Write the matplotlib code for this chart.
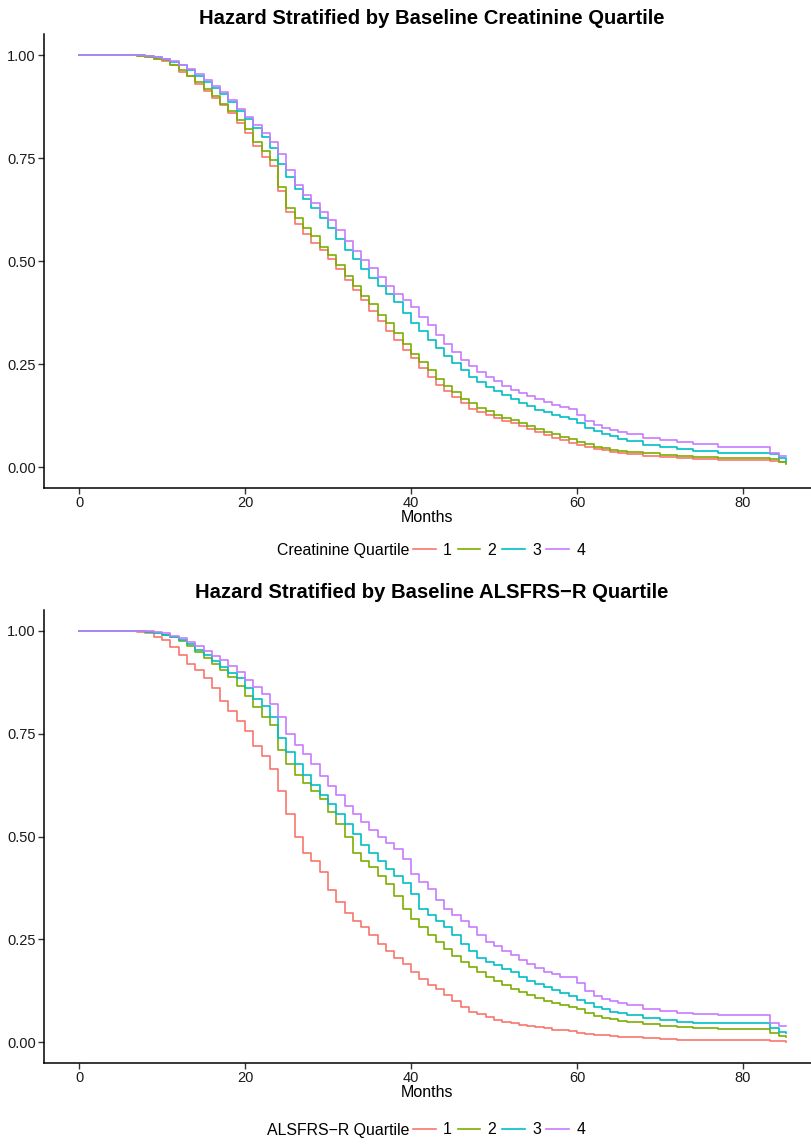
import matplotlib
matplotlib.use("Agg")
import matplotlib.pyplot as plt
from matplotlib.lines import Line2D

plt.rcParams['font.family'] = ['Liberation Sans', 'DejaVu Sans']

# shared month grid
months = [0, 7, 8, 9, 10, 11, 12, 13, 14, 15,
          16, 17, 18, 19, 20, 21, 22, 23, 24, 25,
          26, 27, 28, 29, 30, 31, 32, 33, 34, 35,
          36, 37, 38, 39, 40, 41, 42, 43, 44, 45,
          46, 47, 48, 49, 50, 51, 52, 53, 54, 55,
          56, 57, 58, 59, 60, 61, 62, 63, 64, 65,
          66, 68, 70, 72, 74, 77, 83.3, 84.3, 85.2]

# creatinine quartiles
creat_q1 = [1, 0.998, 0.995, 0.99, 0.985, 0.975, 0.96, 0.948, 0.93, 0.912,
            0.895, 0.878, 0.86, 0.835, 0.81, 0.78, 0.752, 0.73, 0.67, 0.62,
            0.59, 0.565, 0.545, 0.527, 0.505, 0.48, 0.455, 0.43, 0.405, 0.38,
            0.355, 0.33, 0.31, 0.285, 0.265, 0.24, 0.22, 0.2, 0.185, 0.17,
            0.155, 0.142, 0.135, 0.127, 0.12, 0.113, 0.107, 0.1, 0.092, 0.085,
            0.078, 0.071, 0.066, 0.06, 0.055, 0.05, 0.045, 0.041, 0.038, 0.035,
            0.032, 0.027, 0.024, 0.022, 0.021, 0.019, 0.016, 0.013, 0.01]
creat_q2 = [1, 0.998, 0.996, 0.991, 0.987, 0.977, 0.963, 0.95, 0.935, 0.918,
            0.9, 0.882, 0.865, 0.842, 0.82, 0.79, 0.768, 0.745, 0.68, 0.63,
            0.605, 0.58, 0.56, 0.535, 0.515, 0.49, 0.465, 0.44, 0.415, 0.395,
            0.37, 0.35, 0.325, 0.298, 0.275, 0.255, 0.235, 0.215, 0.198, 0.182,
            0.165, 0.155, 0.145, 0.137, 0.128, 0.12, 0.114, 0.107, 0.1, 0.093,
            0.087, 0.08, 0.074, 0.068, 0.062, 0.056, 0.05, 0.046, 0.042, 0.04,
            0.038, 0.034, 0.03, 0.027, 0.025, 0.022, 0.02, 0.012, 0.008]
creat_q3 = [1, 0.999, 0.997, 0.994, 0.99, 0.983, 0.975, 0.963, 0.95, 0.935,
            0.92, 0.905, 0.887, 0.865, 0.845, 0.822, 0.8, 0.775, 0.735, 0.705,
            0.675, 0.652, 0.63, 0.605, 0.58, 0.555, 0.528, 0.505, 0.48, 0.46,
            0.44, 0.42, 0.4, 0.375, 0.35, 0.33, 0.31, 0.29, 0.27, 0.252,
            0.235, 0.22, 0.208, 0.196, 0.185, 0.175, 0.165, 0.157, 0.148, 0.14,
            0.134, 0.128, 0.123, 0.118, 0.108, 0.096, 0.088, 0.081, 0.075, 0.07,
            0.064, 0.055, 0.05, 0.045, 0.04, 0.036, 0.033, 0.022, 0.015]
creat_q4 = [1, 0.999, 0.997, 0.994, 0.99, 0.985, 0.977, 0.967, 0.955, 0.94,
            0.925, 0.91, 0.89, 0.87, 0.85, 0.83, 0.81, 0.788, 0.76, 0.72,
            0.685, 0.66, 0.64, 0.62, 0.6, 0.575, 0.55, 0.525, 0.503, 0.483,
            0.462, 0.44, 0.42, 0.405, 0.39, 0.365, 0.345, 0.32, 0.3, 0.28,
            0.26, 0.245, 0.232, 0.22, 0.21, 0.198, 0.188, 0.18, 0.172, 0.165,
            0.158, 0.152, 0.147, 0.142, 0.128, 0.112, 0.102, 0.095, 0.09, 0.085,
            0.08, 0.072, 0.066, 0.062, 0.057, 0.049, 0.036, 0.027, 0.027]

# ALSFRS-R quartiles
als_q1 = [1, 0.997, 0.993, 0.985, 0.977, 0.96, 0.94, 0.92, 0.905, 0.885,
          0.86, 0.83, 0.805, 0.78, 0.755, 0.72, 0.695, 0.665, 0.61, 0.555,
          0.5, 0.46, 0.44, 0.413, 0.37, 0.34, 0.315, 0.295, 0.28, 0.26,
          0.24, 0.222, 0.205, 0.19, 0.172, 0.155, 0.14, 0.13, 0.115, 0.1,
          0.085, 0.075, 0.068, 0.062, 0.055, 0.05, 0.046, 0.043, 0.04, 0.037,
          0.034, 0.031, 0.029, 0.027, 0.024, 0.021, 0.019, 0.017, 0.015, 0.014,
          0.012, 0.01, 0.008, 0.006, 0.005, 0.005, 0.004, 0.003, 0.002]
als_q2 = [1, 0.999, 0.997, 0.994, 0.99, 0.984, 0.975, 0.962, 0.948, 0.934,
          0.92, 0.905, 0.888, 0.865, 0.84, 0.815, 0.79, 0.77, 0.71, 0.675,
          0.65, 0.63, 0.61, 0.59, 0.56, 0.53, 0.5, 0.46, 0.44, 0.425,
          0.405, 0.385, 0.355, 0.325, 0.3, 0.28, 0.262, 0.245, 0.228, 0.21,
          0.195, 0.182, 0.17, 0.16, 0.15, 0.14, 0.13, 0.122, 0.115, 0.108,
          0.1, 0.095, 0.09, 0.085, 0.08, 0.072, 0.065, 0.06, 0.056, 0.053,
          0.05, 0.044, 0.04, 0.037, 0.035, 0.033, 0.022, 0.015, 0.013]
als_q3 = [1, 0.999, 0.997, 0.995, 0.99, 0.985, 0.978, 0.967, 0.953, 0.94,
          0.926, 0.912, 0.898, 0.885, 0.86, 0.835, 0.818, 0.79, 0.74, 0.705,
          0.675, 0.65, 0.625, 0.6, 0.578, 0.555, 0.53, 0.505, 0.48, 0.46,
          0.44, 0.42, 0.405, 0.388, 0.36, 0.325, 0.31, 0.295, 0.28, 0.26,
          0.24, 0.222, 0.205, 0.195, 0.187, 0.178, 0.17, 0.16, 0.15, 0.142,
          0.135, 0.127, 0.12, 0.112, 0.104, 0.095, 0.087, 0.08, 0.075, 0.071,
          0.067, 0.06, 0.055, 0.05, 0.048, 0.048, 0.035, 0.025, 0.024]
als_q4 = [1, 0.999, 0.998, 0.996, 0.993, 0.988, 0.982, 0.972, 0.962, 0.95,
          0.938, 0.928, 0.915, 0.9, 0.88, 0.862, 0.845, 0.822, 0.79, 0.75,
          0.722, 0.7, 0.675, 0.648, 0.622, 0.6, 0.575, 0.555, 0.535, 0.515,
          0.5, 0.485, 0.47, 0.445, 0.41, 0.39, 0.373, 0.345, 0.325, 0.31,
          0.295, 0.28, 0.26, 0.245, 0.233, 0.222, 0.212, 0.2, 0.19, 0.18,
          0.172, 0.165, 0.16, 0.158, 0.145, 0.125, 0.113, 0.105, 0.1, 0.095,
          0.09, 0.082, 0.076, 0.072, 0.068, 0.066, 0.048, 0.039, 0.039]

labels = ['1', '2', '3', '4']
colors = ['#F8766D', '#7CAE00', '#00BFC4', '#C77CFF']

W, H = 811, 1144
fig = plt.figure(figsize=(W / 100, H / 100), dpi=100)


def panel(top_px, bottom_px, series, title, title_y, leg_title, leg_y):
    ax = fig.add_axes([44 / W, 1 - bottom_px / H, (W - 44) / W, (bottom_px - top_px) / H])
    for s, c in zip(series, colors):
        ax.plot(months, s, drawstyle='steps-post', color=c, lw=1.2)
    ax.set_xlim(-4.22, 88.2)
    ax.set_ylim(-0.05, 1.05)
    ax.set_xticks([0, 20, 40, 60, 80])
    ax.set_yticks([0, 0.25, 0.5, 0.75, 1.0])
    ax.set_yticklabels(['0.00', '0.25', '0.50', '0.75', '1.00'])
    for sp in ['top', 'right']:
        ax.spines[sp].set_visible(False)
    for sp in ['left', 'bottom']:
        ax.spines[sp].set_linewidth(1.1)
        ax.spines[sp].set_color('black')
    ax.tick_params(length=4, width=1, color='#333333', labelsize=10.5,
                   labelcolor='#1a1a1a', pad=2)
    ax.set_xlabel('Months', fontsize=11.5, labelpad=0)
    fig.text(432 / W, 1 - title_y / H, title, ha='center', va='center',
             fontsize=14.6, fontweight='bold')
    # legend: title on the left, keys in one row
    fig.text(409 / W, 1 - leg_y / H, leg_title, ha='right', va='center', fontsize=11.4)
    handles = [Line2D([], [], color=c, lw=1.2) for c in colors]
    fig.legend(handles, labels, loc='center left', bbox_to_anchor=(413 / W, 1 - leg_y / H),
               ncol=4, frameon=False, fontsize=11.4, handlelength=1.45,
               handletextpad=0.45, columnspacing=0.35, borderpad=0, borderaxespad=0)
    return ax


panel(34.4, 488, [creat_q1, creat_q2, creat_q3, creat_q4],
      'Hazard Stratified by Baseline Creatinine Quartile', 18,
      'Creatinine Quartile', 550)
panel(610, 1063, [als_q1, als_q2, als_q3, als_q4],
      'Hazard Stratified by Baseline ALSFRS\u2212R Quartile', 592,
      'ALSFRS\u2212R Quartile', 1130)

fig.savefig('out.png', dpi=100)
